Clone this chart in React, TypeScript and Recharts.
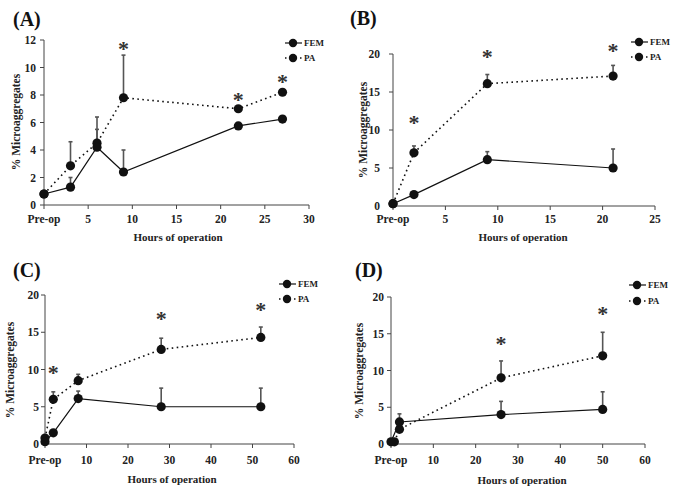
import React from 'react';
import { ComposedChart, Line, XAxis, YAxis, ErrorBar, ReferenceDot } from 'recharts';

const FONT = '"Liberation Serif", "Times New Roman", serif';
const INK = '#111';

// ---- Panel A ----
const hoursA = [0, 3, 6, 9, 22, 27];
const femA = [0.8, 1.3, 4.2, 2.4, 5.75, 6.25];
const femA_sd = [0, 0.7, 1.3, 1.6, 0, 0];
const paA = [0.8, 2.85, 4.5, 7.8, 7.0, 8.2];
const paA_sd = [0, 1.75, 1.9, 3.1, 0, 0];
const starHoursA = [9, 22, 27];
const starLevelA = [11.6, 7.9, 9.2];
const xTicksA = [0, 5, 10, 15, 20, 25, 30];
const yTicksA = [0, 2, 4, 6, 8, 10, 12];

// ---- Panel B ----
const hoursB = [0, 2, 9, 21];
const femB = [0.3, 1.5, 6.1, 5.0];
const femB_sd = [0, 0, 1.05, 2.5];
const paB = [0.3, 7.0, 16.1, 17.1];
const paB_sd = [0, 0.9, 1.2, 1.4];
const starHoursB = [2, 9, 21];
const starLevelB = [11.4, 20.1, 20.9];
const xTicksB = [0, 5, 10, 15, 20, 25];
const yTicksB = [0, 5, 10, 15, 20];

// ---- Panel C ----
const hoursC = [0, 2, 8, 28, 52];
const femC = [0.3, 1.5, 6.1, 5.0, 5.0];
const femC_sd = [0, 0, 1.0, 2.5, 2.5];
const paC = [0.8, 6.0, 8.5, 12.7, 14.3];
const paC_sd = [0, 1.0, 0.85, 1.5, 1.4];
const starHoursC = [2, 28, 52];
const starLevelC = [10.0, 17.3, 18.5];
const xTicksC = [0, 10, 20, 30, 40, 50, 60];
const yTicksC = [0, 5, 10, 15, 20];

// ---- Panel D ----
const hoursD_FEM = [0, 2, 26, 50];
const femD = [0.3, 3.0, 4.0, 4.7];
const femD_sd = [0, 1.1, 1.8, 2.4];
const hoursD_PA = [0.8, 2, 26, 50];
const paD = [0.3, 2.0, 9.0, 12.0];
const paD_sd = [0, 0, 2.3, 3.2];
const starHoursD = [26, 50];
const starLevelD = [14.1, 18.2];
const xTicksD = [0, 10, 20, 30, 40, 50, 60];
const yTicksD = [0, 5, 10, 15, 20];

const seriesLabels = ['FEM', 'PA'];
const panelLabels = ['(A)', '(B)', '(C)', '(D)'];
const xTitle = 'Hours of operation';
const yTitle = '% Microaggregates';

const mk = (xs: number[], ys: number[], sd: number[]) =>
  xs.map((x, i) => ({ x, y: ys[i], err: [0, sd[i]] }));
const mkStars = (xs: number[], ys: number[]) => xs.map((x, i) => ({ x, y: ys[i] }));

const Star = (p: any) => (
  <text x={p.cx} y={p.cy} dy={10.5} textAnchor="middle" fontFamily={FONT} fontWeight="bold" fontSize={22} fill="#333">*</text>
);

const tickStyle = { fill: '#222', fontSize: 11.5, fontWeight: 'bold', fontFamily: FONT };

function Panel(props: any) {
  const { left, top, margin, xTicks, yTicks, fem, pa, stars, xTickMargin, yTickMargin } = props;
  return (
    <div style={{ position: 'absolute', left, top, width: 337, height: 246 }}>
      <ComposedChart width={337} height={246} margin={margin}>
        <XAxis
          type="number"
          dataKey="x"
          domain={[xTicks[0], xTicks[xTicks.length - 1]]}
          ticks={xTicks}
          tickFormatter={(v: number) => (v === 0 ? 'Pre-op' : String(v))}
          height={30}
          tickSize={4}
          tickMargin={xTickMargin}
          stroke="#444"
          tick={tickStyle}
          interval={0}
        />
        <YAxis
          type="number"
          domain={[yTicks[0], yTicks[yTicks.length - 1]]}
          ticks={yTicks}
          width={40}
          tickSize={4}
          tickMargin={yTickMargin}
          stroke="#444"
          tick={tickStyle}
          interval={0}
        />
        <Line
          data={pa}
          dataKey="y"
          stroke={INK}
          strokeWidth={1.6}
          strokeDasharray="1.6 3.4"
          dot={{ r: 4.6, fill: INK, stroke: 'none' }}
          isAnimationActive={false}
        >
          <ErrorBar dataKey="err" width={2} stroke="#555" strokeWidth={1.6} direction="y" />
        </Line>
        <Line
          data={fem}
          dataKey="y"
          stroke={INK}
          strokeWidth={1.2}
          dot={{ r: 4.6, fill: INK, stroke: 'none' }}
          isAnimationActive={false}
        >
          <ErrorBar dataKey="err" width={2} stroke="#555" strokeWidth={1.6} direction="y" />
        </Line>
        {stars.map((s: any, i: number) => (
          <ReferenceDot key={i} x={s.x} y={s.y} r={0} ifOverflow="visible" shape={Star} />
        ))}
      </ComposedChart>
    </div>
  );
}

function LegendMark({ mx, y, dashed, label }: any) {
  return (
    <g>
      <line x1={mx - 8} y1={y} x2={mx + 9} y2={y} stroke={INK} strokeWidth={dashed ? 1.5 : 1.2} strokeDasharray={dashed ? '1.5 3.5' : undefined} />
      <circle cx={mx} cy={y} r={4.2} fill={INK} />
      <text x={mx + 11} y={y + 3.2} fontFamily={FONT} fontWeight="bold" fontSize={9} fill="#222">{label}</text>
    </g>
  );
}

const overlay = [
  { label: 0, lx: 13, ly: 26, yx: 20, yy: 122, xx: 178, xy: 241, mx: 293, ly1: 43, ly2: 58 },
  { label: 1, lx: 350, ly: 25, yx: 367, yy: 130, xx: 523, xy: 241, mx: 639, ly1: 42, ly2: 57 },
  { label: 2, lx: 13, ly: 277, yx: 14, yy: 370, xx: 172, xy: 483, mx: 287, ly1: 284, ly2: 299 },
  { label: 3, lx: 355, ly: 277, yx: 363, yy: 371, xx: 522, xy: 484, mx: 637, ly1: 285, ly2: 301 },
];

export default function App() {
  return (
    <div style={{ position: 'absolute', left: 0, top: 0, width: 674, height: 492, background: '#fff', overflow: 'hidden' }}>
      <Panel
        left={0} top={0}
        margin={{ top: 40, right: 28, left: 4, bottom: 11 }}
        xTicks={xTicksA} yTicks={yTicksA}
        fem={mk(hoursA, femA, femA_sd)} pa={mk(hoursA, paA, paA_sd)}
        stars={mkStars(starHoursA, starLevelA)}
        xTickMargin={6} yTickMargin={4}
      />
      <Panel
        left={337} top={0}
        margin={{ top: 54, right: 19, left: 16, bottom: 10 }}
        xTicks={xTicksB} yTicks={yTicksB}
        fem={mk(hoursB, femB, femB_sd)} pa={mk(hoursB, paB, paB_sd)}
        stars={mkStars(starHoursB, starLevelB)}
        xTickMargin={5} yTickMargin={9}
      />
      <Panel
        left={0} top={246}
        margin={{ top: 49, right: 43, left: 5, bottom: 18 }}
        xTicks={xTicksC} yTicks={yTicksC}
        fem={mk(hoursC, femC, femC_sd)} pa={mk(hoursC, paC, paC_sd)}
        stars={mkStars(starHoursC, starLevelC)}
        xTickMargin={8} yTickMargin={2}
      />
      <Panel
        left={337} top={246}
        margin={{ top: 51, right: 29, left: 14, bottom: 18 }}
        xTicks={xTicksD} yTicks={yTicksD}
        fem={mk(hoursD_FEM, femD, femD_sd)} pa={mk(hoursD_PA, paD, paD_sd)}
        stars={mkStars(starHoursD, starLevelD)}
        xTickMargin={8} yTickMargin={3}
      />
      <svg width={674} height={492} style={{ position: 'absolute', left: 0, top: 0, pointerEvents: 'none' }}>
        {overlay.map((o) => (
          <g key={o.label}>
            <text x={o.lx} y={o.ly} fontFamily={FONT} fontWeight="bold" fontSize={20} fill="#111">{panelLabels[o.label]}</text>
            <text transform={`translate(${o.yx},${o.yy}) rotate(-90)`} textAnchor="middle" fontFamily={FONT} fontWeight="bold" fontSize={11.5} fill="#222">{yTitle}</text>
            <text x={o.xx} y={o.xy} textAnchor="middle" fontFamily={FONT} fontWeight="bold" fontSize={11} fill="#222">{xTitle}</text>
            <LegendMark mx={o.mx} y={o.ly1} dashed={false} label={seriesLabels[0]} />
            <LegendMark mx={o.mx} y={o.ly2} dashed={true} label={seriesLabels[1]} />
          </g>
        ))}
      </svg>
    </div>
  );
}
